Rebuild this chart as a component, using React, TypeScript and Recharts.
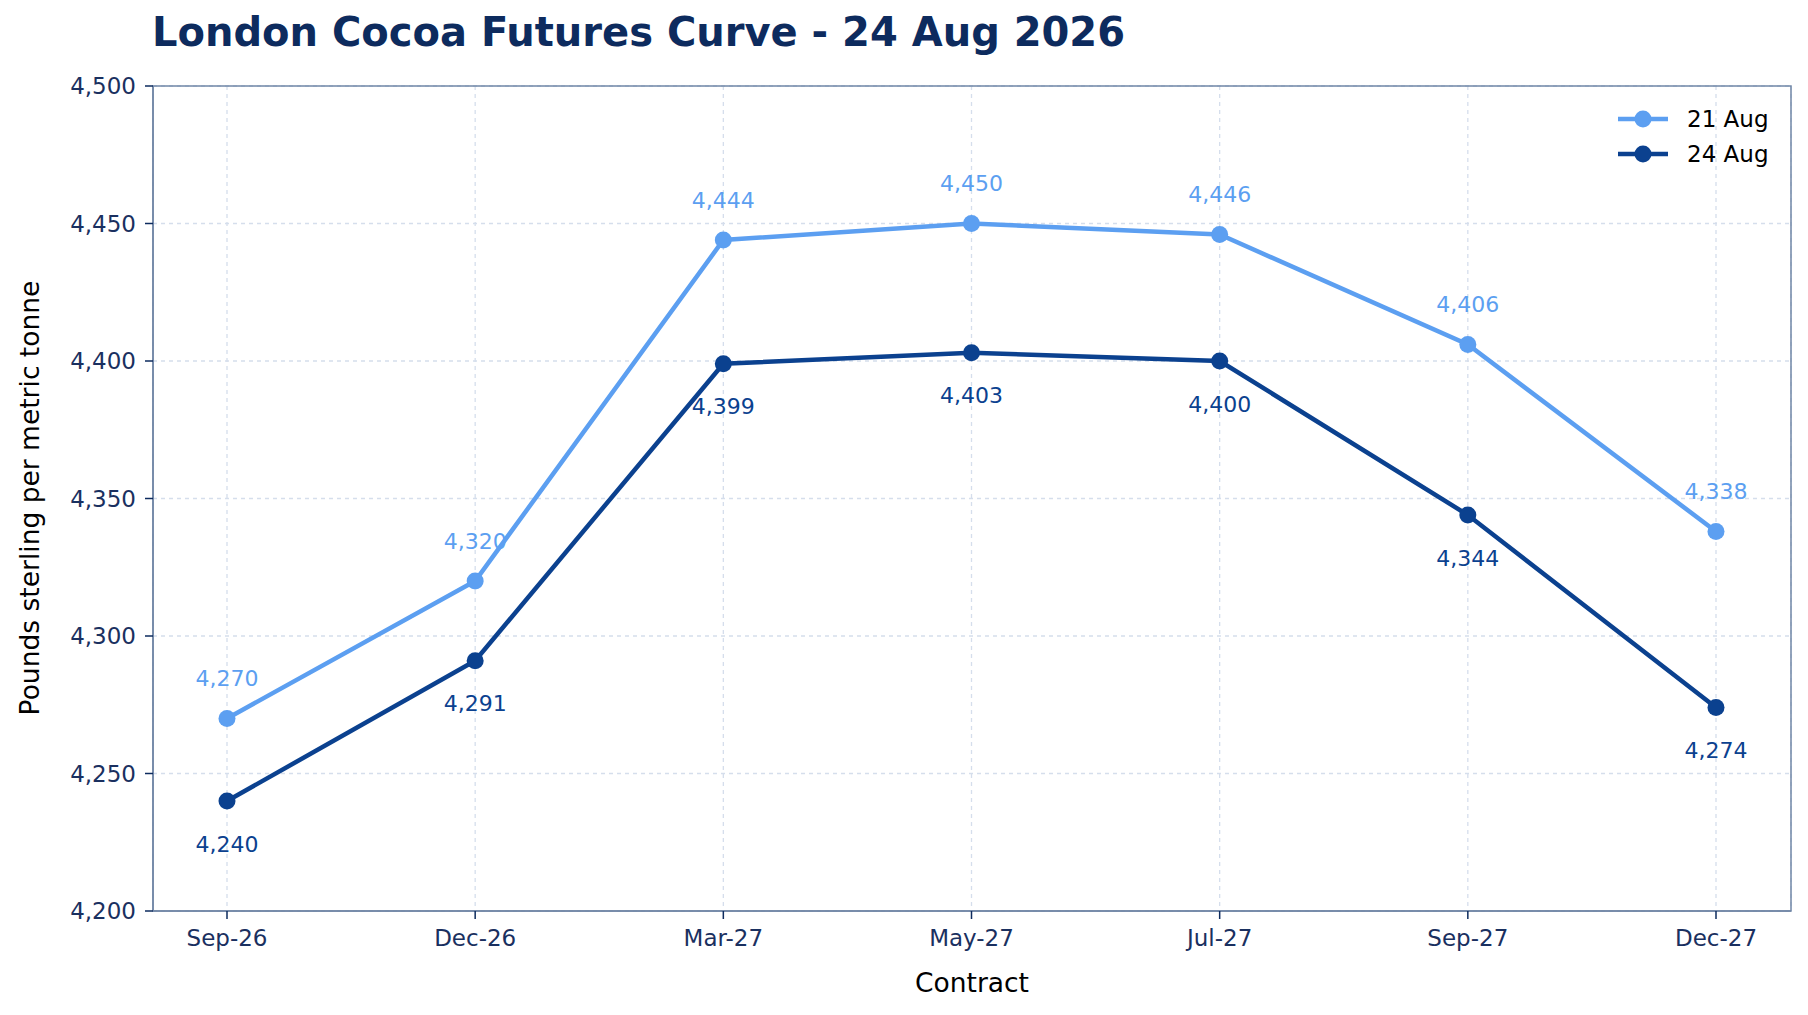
import React from "react";
import * as R from "recharts";
import {
  LineChart,
  Line,
  XAxis,
  YAxis,
  CartesianGrid,
  Legend,
  LabelList,
} from "recharts";

const contracts = ["Sep-26", "Dec-26", "Mar-27", "May-27", "Jul-27", "Sep-27", "Dec-27"];
const aug21 = [4270, 4320, 4444, 4450, 4446, 4406, 4338];
const aug24 = [4240, 4291, 4399, 4403, 4400, 4344, 4274];
const yTicks = [4200, 4250, 4300, 4350, 4400, 4450, 4500];

const LIGHT = "#5c9ff1";
const DARK = "#0b418f";
const NAVY = "#0d2b5e";
const AXIS = "#7086a6";
const TICK = "#1a3060";
const FONT = "'DejaVu Sans', sans-serif";

const data = contracts.map((c, i) => ({ contract: c, a21: aug21[i], a24: aug24[i] }));

const fmt = (v: number) => v.toLocaleString("en-US");

const usePlot: any = (R as any).usePlotArea || (R as any).useOffset;

const Frame = () => {
  const p = usePlot ? usePlot() : null;
  if (!p) return null;
  const x = p.x ?? p.left;
  const y = p.y ?? p.top;
  return (
    <rect
      x={x}
      y={y}
      width={p.width}
      height={p.height}
      fill="none"
      stroke={AXIS}
      strokeWidth={1.5}
    />
  );
};

const makeLabel = (color: string, dy: number) => (props: any) => {
  const { x, y, value } = props;
  return (
    <text
      x={x}
      y={y + dy}
      fill={color}
      fontSize={22}
      fontFamily={FONT}
      textAnchor="middle"
      dominantBaseline="central"
    >
      {fmt(value)}
    </text>
  );
};

const LegendContent = () => (
  <div style={{ fontFamily: FONT, fontSize: 23, color: "#000" }}>
    {[
      { name: "21 Aug", color: LIGHT },
      { name: "24 Aug", color: DARK },
    ].map((it) => (
      <div key={it.name} style={{ display: "flex", alignItems: "center", height: 35 }}>
        <svg width={50} height={20} style={{ marginRight: 19 }}>
          <line x1={0} y1={10} x2={50} y2={10} stroke={it.color} strokeWidth={4.5} />
          <circle cx={25} cy={10} r={8.5} fill={it.color} />
        </svg>
        <span>{it.name}</span>
      </div>
    ))}
  </div>
);

export default function App() {
  return (
    <div style={{ position: "absolute", left: 0, top: 0, width: 1808, height: 1015, background: "#fff" }}>
      <div
        style={{
          position: "absolute",
          left: 152,
          top: 9,
          fontFamily: FONT,
          fontWeight: "bold",
          fontSize: 40,
          color: NAVY,
          whiteSpace: "nowrap",
        }}
      >
        London Cocoa Futures Curve - 24 Aug 2026
      </div>
      <div
        style={{
          position: "absolute",
          left: 29,
          top: 498,
          transform: "translate(-50%, -50%) rotate(-90deg)",
          fontFamily: FONT,
          fontSize: 26.5,
          color: "#000",
          whiteSpace: "nowrap",
        }}
      >
        Pounds sterling per metric tonne
      </div>
      <div
        style={{
          position: "absolute",
          left: 972,
          top: 982,
          transform: "translate(-50%, -50%)",
          fontFamily: FONT,
          fontSize: 26.5,
          color: "#000",
          whiteSpace: "nowrap",
        }}
      >
        Contract
      </div>
      <LineChart
        width={1808}
        height={1015}
        data={data}
        margin={{ top: 86, left: 73, right: 17, bottom: 44 }}
      >
        <CartesianGrid stroke="#d5deec" strokeDasharray="4 4" strokeWidth={1.3} />
        <XAxis
          dataKey="contract"
          height={60}
          padding={{ left: 74, right: 75 }}
          stroke={AXIS}
          strokeWidth={1.5}
          tickLine={{ stroke: NAVY, strokeWidth: 1.5 }}
          tickSize={8}
          tickMargin={11}
          tick={{ fill: TICK, fontSize: 23, fontFamily: FONT }}
          interval={0}
        />
        <YAxis
          width={80}
          domain={[4200, 4500]}
          ticks={yTicks}
          tickFormatter={fmt}
          stroke={AXIS}
          strokeWidth={1.5}
          tickLine={{ stroke: NAVY, strokeWidth: 1.5 }}
          tickSize={8}
          tickMargin={9}
          tick={{ fill: TICK, fontSize: 23, fontFamily: FONT }}
          allowDataOverflow
        />
        <Legend
          layout="horizontal"
          verticalAlign="middle"
          align="center"
          content={<LegendContent />}
          wrapperStyle={{ position: "absolute", top: 101, left: 1618, width: "auto" }}
        />
        <Line
          dataKey="a21"
          name="21 Aug"
          stroke={LIGHT}
          strokeWidth={4.5}
          dot={{ r: 8.5, fill: LIGHT, stroke: LIGHT, strokeWidth: 0 }}
          isAnimationActive={false}
        >
          <LabelList dataKey="a21" content={makeLabel(LIGHT, -40)} />
        </Line>
        <Line
          dataKey="a24"
          name="24 Aug"
          stroke={DARK}
          strokeWidth={4.5}
          dot={{ r: 8.5, fill: DARK, stroke: DARK, strokeWidth: 0 }}
          isAnimationActive={false}
        >
          <LabelList dataKey="a24" content={makeLabel(DARK, 43)} />
        </Line>
        <Frame />
      </LineChart>
    </div>
  );
}
